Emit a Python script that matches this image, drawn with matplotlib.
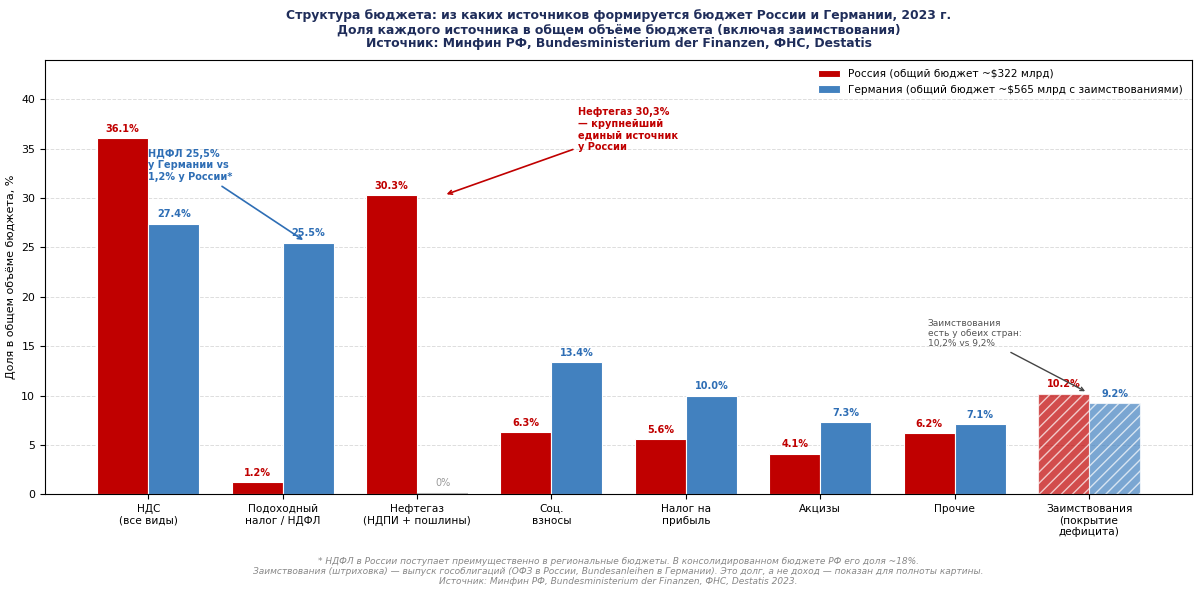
import matplotlib
matplotlib.use("Agg")
import matplotlib.pyplot as plt
import numpy as np

categories = ["НДС\n(все виды)", "Подоходный\nналог / НДФЛ", "Нефтегаз\n(НДПИ + пошлины)",
              "Соц.\nвзносы", "Налог на\nприбыль", "Акцизы", "Прочие",
              "Заимствования\n(покрытие\nдефицита)"]
russia = [36.1, 1.2, 30.3, 6.3, 5.6, 4.1, 6.2, 10.2]
germany = [27.4, 25.5, 0.0, 13.4, 10.0, 7.3, 7.1, 9.2]
legend_labels = ["Россия (общий бюджет ~$322 млрд)",
                 "Германия (общий бюджет ~$565 млрд с заимствованиями)"]

RED = "#C00000"
BLUE = "#4281BF"
RED_T = "#C00000"
BLUE_T = "#2E6EB5"

plt.rcParams['font.family'] = ['DejaVu Sans']
fig, ax = plt.subplots(figsize=(12, 5.94), dpi=100)
fig.subplots_adjust(left=0.0375, right=0.9935, top=0.899, bottom=0.168)

x = np.arange(len(categories))
w = 0.38
n = len(categories)
for i in range(n):
    borrow = (i == n - 1)
    ax.bar(x[i] - w / 2, russia[i], w, color=RED, edgecolor="white", linewidth=0.8,
           alpha=0.7 if borrow else 1.0, hatch="///" if borrow else None,
           label=legend_labels[0] if i == 0 else None)
    if germany[i] > 0:
        ax.bar(x[i] + w / 2, germany[i], w, color=BLUE, edgecolor="white", linewidth=0.8,
               alpha=0.7 if borrow else 1.0, hatch="///" if borrow else None,
               label=legend_labels[1] if i == 0 else None)
    else:
        ax.bar(x[i] + w / 2, germany[i], w, color="#BBBBBB", edgecolor="#BBBBBB", linewidth=1.5)

for i in range(n):
    ax.text(x[i] - w / 2, russia[i] + 0.45, f"{russia[i]:.1f}%", ha="center", va="bottom",
            fontsize=7, fontweight="bold", color=RED_T)
    if germany[i] > 0:
        ax.text(x[i] + w / 2, germany[i] + 0.45, f"{germany[i]:.1f}%", ha="center", va="bottom",
                fontsize=7, fontweight="bold", color=BLUE_T)
    else:
        ax.text(x[i] + w / 2, 0.6, "0%", ha="center", va="bottom", fontsize=7, color="#999999")

ax.set_ylim(0, 44)
ax.set_xticks(x)
ax.set_xticklabels(categories, fontsize=7.6)
ax.set_ylabel("Доля в общем объёме бюджета, %", fontsize=8)
ax.tick_params(axis="y", labelsize=7.9)
ax.yaxis.grid(True, linestyle="--", color="#DDDDDD", linewidth=0.7)
ax.set_axisbelow(True)

ax.legend(loc="upper right", fontsize=7.6, frameon=False)

ax.set_title("Структура бюджета: из каких источников формируется бюджет России и Германии, 2023 г.\n"
             "Доля каждого источника в общем объёме бюджета (включая заимствования)\n"
             "Источник: Минфин РФ, Bundesministerium der Finanzen, ФНС, Destatis",
             fontsize=8.9, fontweight="bold", color="#1F2D5A", linespacing=1.1, pad=9)

ax.annotate("НДФЛ 25,5%\nу Германии vs\n1,2% у России*", xy=(1.17, 25.6), xytext=(0.0, 35.0),
            ha="left", va="top", fontsize=7, fontweight="bold", color=BLUE_T,
            arrowprops=dict(arrowstyle="->", color=BLUE_T, lw=1.2))
ax.annotate("Нефтегаз 30,3%\n— крупнейший\nединый источник\nу России", xy=(2.2, 30.3), xytext=(3.2, 39.2),
            ha="left", va="top", fontsize=7, fontweight="bold", color=RED_T,
            arrowprops=dict(arrowstyle="->", color=RED_T, lw=1.2))
ax.annotate("Заимствования\nесть у обеих стран:\n10,2% vs 9,2%", xy=(6.99, 10.3), xytext=(5.8, 17.8),
            ha="left", va="top", fontsize=6.5, color="#555555",
            arrowprops=dict(arrowstyle="->", color="#444444", lw=1.0))

fig.text(0.515, 0.014,
         "* НДФЛ в России поступает преимущественно в региональные бюджеты. В консолидированном бюджете РФ его доля ~18%.\n"
         "Заимствования (штриховка) — выпуск гособлигаций (ОФЗ в России, Bundesanleihen в Германии). Это долг, а не доход — показан для полноты картины.\n"
         "Источник: Минфин РФ, Bundesministerium der Finanzen, ФНС, Destatis 2023.",
         ha="center", va="bottom", fontsize=6.5, style="italic", color="#888888", linespacing=1.15)

fig.savefig("out.png", dpi=100)
